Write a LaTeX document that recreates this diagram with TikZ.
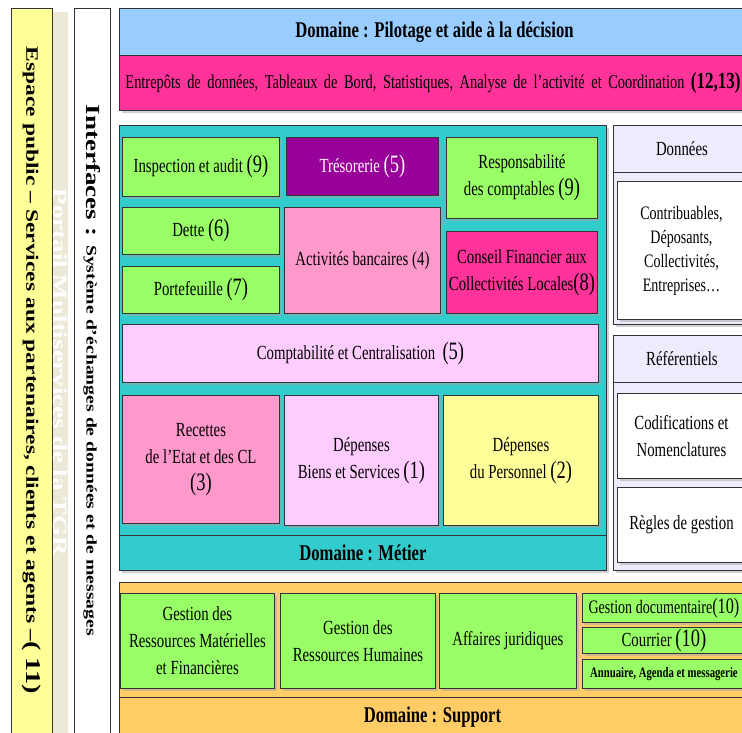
\documentclass[tikz,border=0pt]{standalone}
\usepackage{fontspec}
\setmainfont{Liberation Serif}[FakeStretch=0.74]
\newfontfamily\vertserif{Liberation Serif}[FakeStretch=1.35]
\usetikzlibrary{shadows}
\definecolor{pilotblue}{HTML}{99CCFF}
\definecolor{hotpink}{HTML}{FF3399}
\definecolor{metier}{HTML}{33CCCC}
\definecolor{leafgreen}{HTML}{99FF66}
\definecolor{treso}{HTML}{990099}
\definecolor{rosepink}{HTML}{FF99CC}
\definecolor{palepink}{HTML}{FFCCFF}
\definecolor{paleyellow}{HTML}{FFFF99}
\definecolor{support}{HTML}{FFCC66}
\definecolor{lavender}{HTML}{ECECFC}
\definecolor{portail}{HTML}{ECE9D8}
\definecolor{espace}{HTML}{FFFF99}
\newcommand{\bodyfont}{\fontsize{20}{27}\selectfont}
\newcommand{\bn}[1]{{\fontsize{25}{27}\selectfont #1}}
\tikzset{
  cell/.style     = {draw=black!80, line width=0.9pt, anchor=north west, inner sep=1pt,
                     align=center, font=\bodyfont,
                     drop shadow={shadow xshift=3pt, shadow yshift=-3pt, fill=black!35, opacity=0.5}},
  gcell/.style    = {cell, fill=leafgreen},
  pcell/.style    = {cell, fill=rosepink},
  lcell/.style    = {cell, fill=palepink},
  wcell/.style    = {cell, fill=white},
  frame/.style    = {cell, inner sep=0pt},
  band/.style     = {draw=black!80, line width=0.9pt, anchor=north west, inner sep=0pt,
                     font=\fontsize{22.5}{26}\selectfont\bfseries},
  vcol/.style     = {draw=black!80, line width=0.9pt, rotate=-90, inner sep=0pt},
}
\begin{document}
\begin{tikzpicture}[x=1pt, y=-1pt]
  \clip (0,0) rectangle (742,733);
  \fill[white] (0,0) rectangle (742,733);

  % colonnes verticales
  \node[vcol, fill=espace, minimum width=725, minimum height=41] (espace) at (31.5,370.5)
    {\vertserif\bfseries\fontsize{17.4}{20}\selectfont Espace public – Services aux partenaires, clients et agents –{\fontsize{21}{20}\selectfont( 11)}};
  \node[vcol, draw=none, fill=portail, minimum width=721, minimum height=15] (portail) at (60.5,372.5) {};
  \node[rotate=-90, text=white, inner sep=0pt] (portailtxt) at (portail.center)
    {\vertserif\bfseries\fontsize{20}{20}\selectfont Portail Multiservices de la TGR};
  \node[vcol, fill=white, minimum width=725, minimum height=36] (interf) at (92,370.5)
    {\vertserif\bfseries\fontsize{20}{20}\selectfont Interfaces :
     \fontsize{14.6}{20}\selectfont Système d’échanges de données et de messages};

  % pilotage
  \node[frame, fill=hotpink, text width=640, align=left, inner xsep=6pt, minimum height=55,
        font=\fontsize{19.5}{24}\selectfont] (entrep) at (119,55)
    {Entrepôts de données, Tableaux de Bord, Statistiques, Analyse de l’activité et Coordination {\fontsize{23}{24}\selectfont\bfseries(12,13)}};
  \node[band, fill=pilotblue, minimum width=630, minimum height=47] (pilot) at (119,8)
    {Domaine : Pilotage et aide à la décision};

  % metier
  \node[frame, fill=metier, minimum width=487, minimum height=445] (metier) at (119,125) {};
  \node[band, fill=metier, minimum width=487, minimum height=35] (metierband) at (119,535) {Domaine : Métier};
  \node[gcell, minimum width=157, minimum height=59] (insp) at (122,137) {Inspection et audit \bn{(9)}};
  \node[cell, fill=treso, text=white, minimum width=152, minimum height=58] (treso) at (286,137) {Trésorerie \bn{(5)}};
  \node[gcell, minimum width=151, minimum height=81] (resp) at (446,137) {Responsabilité\\des comptables \bn{(9)}};
  \node[gcell, minimum width=157, minimum height=47] (dette) at (122,207) {Dette \bn{(6)}};
  \node[pcell, minimum width=156, minimum height=106] (activ) at (284,207) {Activités bancaires (4)};
  \node[cell, fill=hotpink, minimum width=151, minimum height=82] (conseil) at (446,231) {Conseil Financier aux\\Collectivités Locales\bn{(8)}};
  \node[gcell, minimum width=157, minimum height=47] (porte) at (122,266) {Portefeuille \bn{(7)}};
  \node[lcell, minimum width=476, minimum height=58] (compta) at (122,324) {Comptabilité et Centralisation \ \bn{(5)}};
  \node[pcell, minimum width=157, minimum height=128] (recet) at (122,395) {Recettes\\de l’Etat et des CL\\\bn{(3)}};
  \node[lcell, minimum width=154, minimum height=130] (depbs) at (284,395) {Dépenses\\Biens et Services \bn{(1)}};
  \node[cell, fill=paleyellow, minimum width=155, minimum height=130] (deppers) at (443,395) {Dépenses\\du Personnel \bn{(2)}};

  % donnees et referentiels
  \node[frame, fill=lavender, minimum width=137, minimum height=199] (donnees) at (613,125) {};
  \node[band, fill=lavender, font=\bodyfont, minimum width=137, minimum height=47] (donneeshd) at (613,125) {Données};
  \node[wcell, font=\fontsize{19}{24}\selectfont, minimum width=128, minimum height=138] (contrib) at (617,181)
    {Contribuables,\\Déposants,\\Collectivités,\\Entreprises…};
  \node[frame, fill=lavender, minimum width=137, minimum height=235] (refer) at (613,335) {};
  \node[band, fill=lavender, font=\bodyfont, minimum width=137, minimum height=47] (referhd) at (613,335) {Référentiels};
  \node[wcell, minimum width=128, minimum height=85] (codif) at (617,393) {Codifications et\\Nomenclatures};
  \node[wcell, minimum width=128, minimum height=75] (regles) at (617,487) {Règles de gestion};

  % support
  \node[frame, fill=support, minimum width=631, minimum height=163] (support) at (119,582) {};
  \node[band, fill=support, minimum width=626, minimum height=40] (supportband) at (119,697) {Domaine : Support};
  \node[gcell, minimum width=154, minimum height=95] (rmf) at (120,593) {Gestion des\\Ressources Matérielles\\et Financières};
  \node[gcell, minimum width=155, minimum height=95] (rh) at (280,593) {Gestion des\\Ressources Humaines};
  \node[gcell, minimum width=137, minimum height=95] (jurid) at (439,593) {Affaires juridiques};
  \node[gcell, font=\fontsize{19}{24}\selectfont, minimum width=163, minimum height=29] (gdoc) at (582,593)
    {Gestion documentaire{\fontsize{22}{24}\selectfont(10)}};
  \node[gcell, minimum width=163, minimum height=26] (courrier) at (582,627) {Courrier \bn{(10)}};
  \node[gcell, font=\fontsize{14.5}{18}\selectfont\bfseries, minimum width=163, minimum height=29] (annu) at (582,659) {Annuaire, Agenda et messagerie};
\end{tikzpicture}
\end{document}
